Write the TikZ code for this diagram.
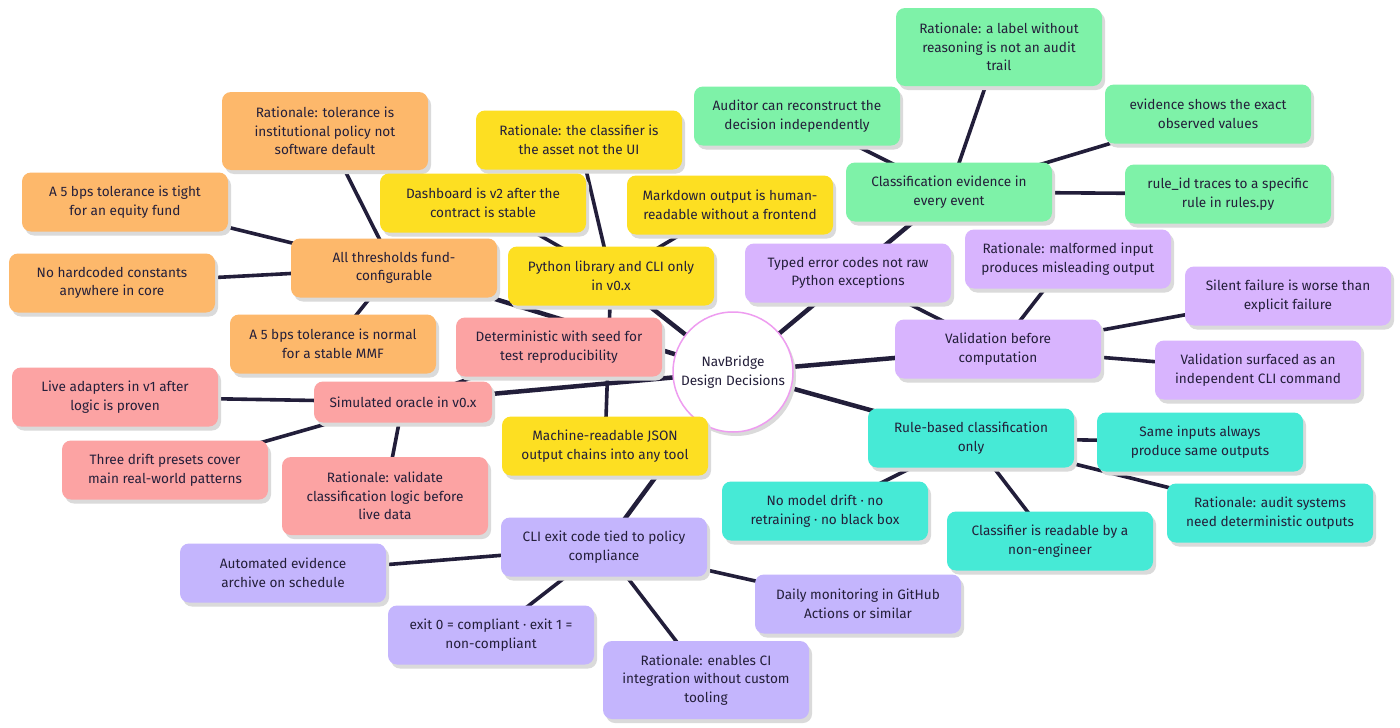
\documentclass[tikz,border=0pt]{standalone}
\usepackage{fontspec}
\setmainfont{Fira Sans}
\usetikzlibrary{shadows,backgrounds}
\definecolor{corange}{HTML}{FDB86B}
\definecolor{cyellow}{HTML}{FDDF22}
\definecolor{csalmon}{HTML}{FCA3A3}
\definecolor{cgreen}{HTML}{7EF2A8}
\definecolor{cviolet}{HTML}{D8B4FE}
\definecolor{cteal}{HTML}{46EAD6}
\definecolor{clav}{HTML}{C4B5FD}
\definecolor{txt}{HTML}{241F3A}
\definecolor{edgec}{HTML}{221E3A}
\definecolor{shadowc}{HTML}{DADADA}
\definecolor{ringc}{HTML}{EE9CF0}
\tikzset{
  box/.style={rectangle, rounded corners=9pt, draw=none, text=txt, align=center,
    minimum width=206pt, minimum height=59pt, inner sep=3pt,
    font=\fontsize{13.6}{18.5}\selectfont,
    drop shadow={shadow xshift=3pt, shadow yshift=-4pt, fill=shadowc, opacity=1}},
  tall/.style={minimum height=78pt},
  obox/.style={box, fill=corange},
  ybox/.style={box, fill=cyellow},
  sbox/.style={box, fill=csalmon},
  gbox/.style={box, fill=cgreen},
  vbox/.style={box, fill=cviolet},
  tbox/.style={box, fill=cteal},
  lbox/.style={box, fill=clav},
  circ/.style={circle, draw=ringc, line width=1.5pt, fill=white, minimum size=120pt,
    text=txt, align=center, inner sep=0pt, font=\fontsize{13.6}{18.5}\selectfont,
    drop shadow={shadow xshift=3pt, shadow yshift=-4pt, fill=shadowc, opacity=1}},
  mainedge/.style={line width=4.5pt, draw=edgec},
  subedge/.style={line width=3.6pt, draw=edgec}
}
\begin{document}
\begin{tikzpicture}[x=1pt,y=-1pt]
\useasboundingbox (0,0) rectangle (1400,728);
% center
\node[circ] (c) at (733,372) {NavBridge\\Design Decisions};
% orange
\node[obox] (om) at (394,268) {All thresholds fund-\\configurable};
\node[obox,tall] (o1) at (325,131) {Rationale: tolerance is\\institutional policy not\\software default};
\node[obox] (o2) at (125,202) {A 5 bps tolerance is tight\\for an equity fund};
\node[obox] (o3) at (112,283) {No hardcoded constants\\anywhere in core};
\node[obox] (o4) at (333,344) {A 5 bps tolerance is normal\\for a stable MMF};
% yellow
\node[ybox] (ym) at (611,276) {Python library and CLI only\\in v0.x};
\node[ybox] (y1) at (579,140) {Rationale: the classifier is\\the asset not the UI};
\node[ybox] (y2) at (483,203) {Dashboard is v2 after the\\contract is stable};
\node[ybox] (y3) at (730,205) {Markdown output is human-\\readable without a frontend};
\node[ybox] (y4) at (605,446) {Machine-readable JSON\\output chains into any tool};
% salmon
\node[sbox,minimum width=178pt,minimum height=41pt] (sm) at (403,402) {Simulated oracle in v0.x};
\node[sbox] (s1) at (559,347) {Deterministic with seed for\\test reproducibility};
\node[sbox] (s2) at (115,397) {Live adapters in v1 after\\logic is proven};
\node[sbox] (s3) at (165,470) {Three drift presets cover\\main real-world patterns};
\node[sbox,tall] (s4) at (385,496) {Rationale: validate\\classification logic before\\live data};
% green
\node[gbox] (gm) at (949,192) {Classification evidence in\\every event};
\node[gbox,tall] (g1) at (999,47) {Rationale: a label without\\reasoning is not an audit\\trail};
\node[gbox] (g2) at (797,116) {Auditor can reconstruct the\\decision independently};
\node[gbox] (g3) at (1208,114) {evidence shows the exact\\observed values};
\node[gbox] (g4) at (1228,194) {rule\_id traces to a specific\\rule in rules.py};
% violet
\node[vbox] (vm) at (998,349) {Validation before\\computation};
\node[vbox] (v1) at (848,273) {Typed error codes not raw\\Python exceptions};
\node[vbox] (v2) at (1068,259) {Rationale: malformed input\\produces misleading output};
\node[vbox] (v3) at (1288,296) {Silent failure is worse than\\explicit failure};
\node[vbox] (v4) at (1258,370) {Validation surfaced as an\\independent CLI command};
% teal
\node[tbox] (tm) at (971,438) {Rule-based classification\\only};
\node[tbox] (t1) at (1200,442) {Same inputs always\\produce same outputs};
\node[tbox] (t2) at (1270,513) {Rationale: audit systems\\need deterministic outputs};
\node[tbox] (t3) at (1050,541) {Classifier is readable by a\\non-engineer};
\node[tbox] (t4) at (825,511) {No model drift · no\\retraining · no black box};
% lavender
\node[lbox] (lm) at (604,547) {CLI exit code tied to policy\\compliance};
\node[lbox] (l1) at (283,573) {Automated evidence\\archive on schedule};
\node[lbox] (l2) at (491,635) {exit 0 = compliant · exit 1 =\\non-compliant};
\node[lbox,tall] (l3) at (706,680) {Rationale: enables CI\\integration without custom\\tooling};
\node[lbox] (l4) at (858,604) {Daily monitoring in GitHub\\Actions or similar};
\begin{pgfonlayer}{background}
\fill[white] (0,0) rectangle (1400,728);
\draw[mainedge] (c.center) -- (om.center);
\draw[mainedge] (c.center) -- (ym.center);
\draw[mainedge] (c.center) -- (sm.center);
\draw[mainedge] (c.center) -- (gm.center);
\draw[mainedge] (c.center) -- (vm.center);
\draw[mainedge] (c.center) -- (tm.center);
\draw[mainedge] (c.center) -- (lm.center);
\foreach \k in {o1,o2,o3,o4} \draw[subedge] (om.center) -- (\k.center);
\foreach \k in {y1,y2,y3,y4} \draw[subedge] (ym.center) -- (\k.center);
\foreach \k in {s1,s2,s3,s4} \draw[subedge] (sm.center) -- (\k.center);
\foreach \k in {g1,g2,g3,g4} \draw[subedge] (gm.center) -- (\k.center);
\foreach \k in {v1,v2,v3,v4} \draw[subedge] (vm.center) -- (\k.center);
\foreach \k in {t1,t2,t3,t4} \draw[subedge] (tm.center) -- (\k.center);
\foreach \k in {l1,l2,l3,l4} \draw[subedge] (lm.center) -- (\k.center);
\end{pgfonlayer}
\end{tikzpicture}
\end{document}
